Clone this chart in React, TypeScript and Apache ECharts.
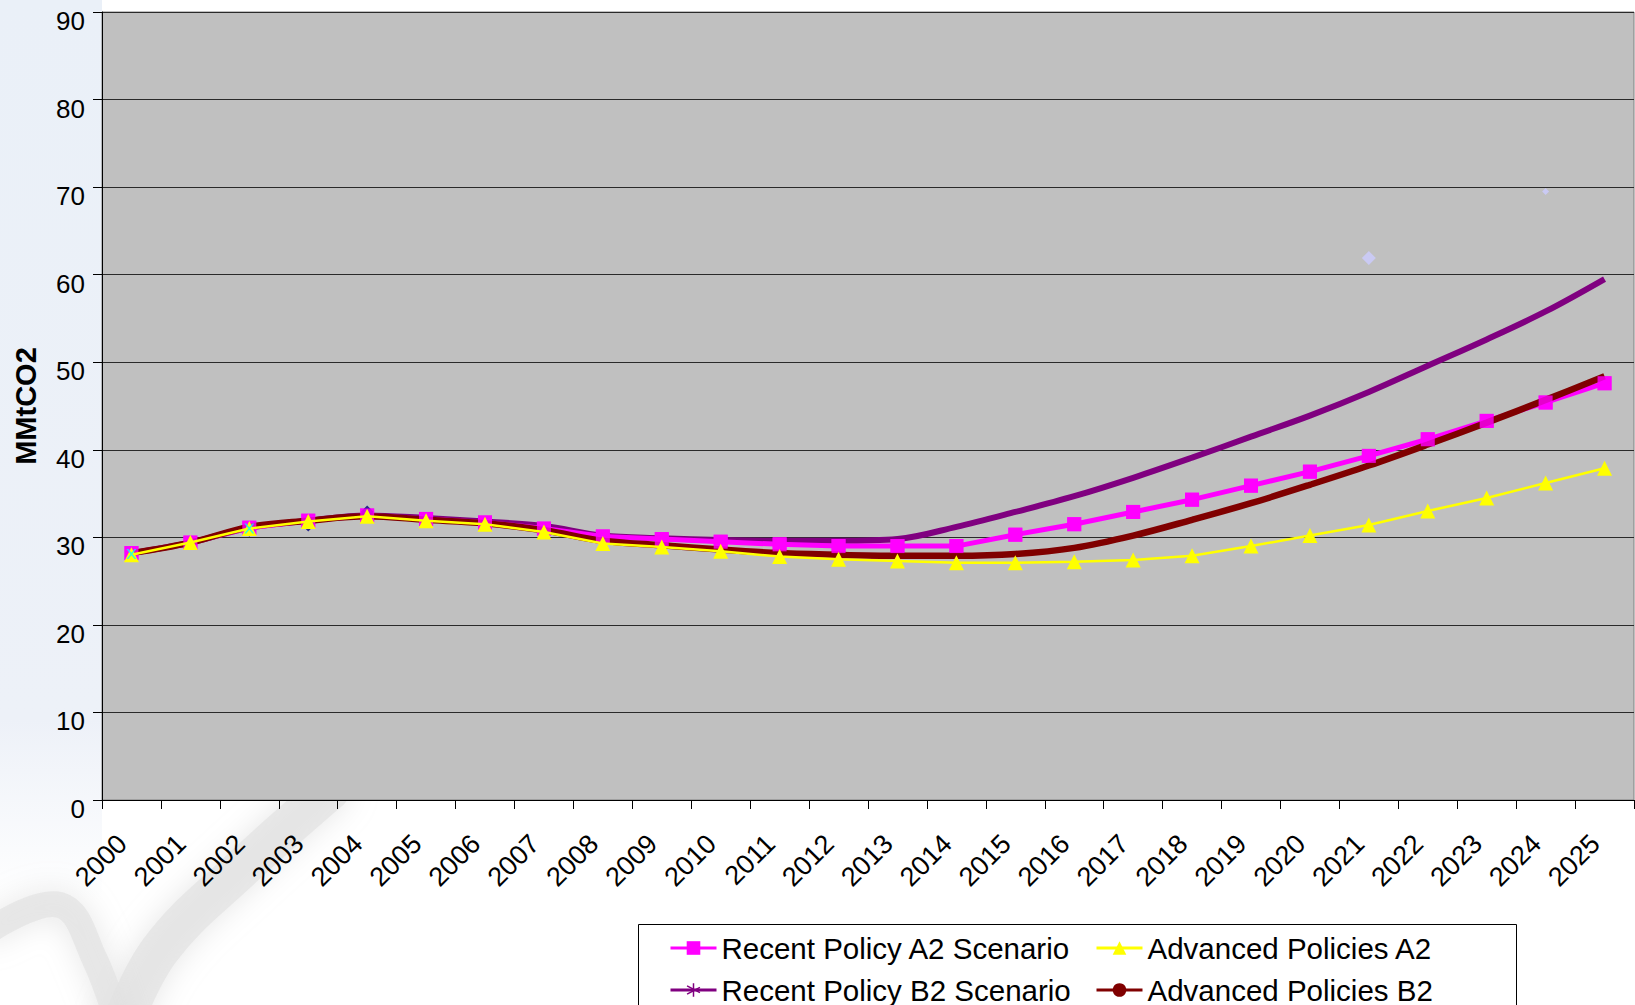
import React, { useEffect, useRef } from "react";
import * as echarts from "echarts";

// Emission projections, MMtCO2
const years = [
  "2000", "2001", "2002", "2003", "2004", "2005", "2006", "2007", "2008",
  "2009", "2010", "2011", "2012", "2013", "2014", "2015", "2016", "2017",
  "2018", "2019", "2020", "2021", "2022", "2023", "2024", "2025",
];

const recentA2 = [
  28.2, 29.4, 31.1, 31.9, 32.5, 32.1, 31.7, 31.0, 30.1, 29.8, 29.5, 29.2, 29.0,
  29.0, 29.0, 30.3, 31.5, 32.9, 34.3, 35.9, 37.5, 39.3, 41.2, 43.3, 45.4, 47.6,
];

const recentB2 = [
  28.2, 29.4, 31.1, 31.9, 32.5, 32.2, 31.8, 31.3, 30.2, 29.9, 29.7, 29.6, 29.6,
  29.8, 31.2, 32.9, 34.7, 36.8, 39.1, 41.5, 43.9, 46.6, 49.6, 52.6, 55.8, 59.5,
];

const advancedA2 = [
  28.0, 29.4, 31.0, 31.8, 32.4, 31.9, 31.5, 30.6, 29.3, 28.9, 28.4, 27.8, 27.5,
  27.3, 27.1, 27.1, 27.2, 27.4, 27.9, 29.0, 30.2, 31.4, 33.0, 34.5, 36.2, 37.9,
];

const advancedB2 = [
  28.2, 29.4, 31.2, 31.9, 32.4, 32.0, 31.6, 30.8, 29.6, 29.1, 28.6, 28.2, 28.0,
  27.9, 27.9, 28.1, 28.8, 30.2, 32.0, 33.9, 36.0, 38.2, 40.6, 43.1, 45.7, 48.4,
];

// Leftover markers from unused worksheet series
const navyPoints = [["2002", 30.8], ["2003", 31.4], ["2004", 32.9]];
const cyanPoints = [["2000", 28.1], ["2002", 31.0]];
const lavenderPoints = [["2021", 61.9], ["2024", 69.5]];

const seriesNames = [
  "Recent Policy A2 Scenario",
  "Recent Policy B2 Scenario",
  "Advanced Policies A2",
  "Advanced Policies B2",
];

const FONT = "'Liberation Sans', Arial, sans-serif";

const ASTERISK =
  "path://M4.5,0h1v10h-1z M0.4,2.4l0.5,-0.87l8.7,5.02l-0.5,0.87z M0.4,7.6l8.7,-5.02l0.5,0.87l-8.7,5.02z";
const CROSS = "path://M0,0L2,0L10,10L8,10z M8,0L10,0L2,10L0,10z";

export default function App() {
  const ref = useRef<HTMLDivElement>(null);

  useEffect(() => {
    if (!ref.current) return;
    const chart = echarts.init(ref.current, undefined, { renderer: "svg" });

    const legendBase = {
      orient: "vertical" as const,
      top: 933,
      itemWidth: 46,
      itemHeight: 17,
      itemGap: 12,
      padding: 0,
      selectedMode: false,
      lineStyle: { width: 3 },
      textStyle: { fontSize: 29.5, color: "#000", fontFamily: FONT, lineHeight: 29 },
    };

    const branch = (points: number[][], width: number) => ({
      type: "polyline",
      z: -9,
      shape: { points, smooth: 0.4 },
      style: {
        stroke: "#e2e2e2",
        lineWidth: width,
        fill: "none",
        opacity: 0.7,
        shadowBlur: 30,
        shadowColor: "#dddddd",
        lineCap: "round",
      },
    });

    chart.setOption({
      animation: false,
      backgroundColor: "#ffffff",
      textStyle: { fontFamily: FONT },
      graphic: [
        // faint backdrop artwork around the plot
        {
          type: "rect",
          z: -10,
          shape: { x: 0, y: 0, width: 102, height: 900 },
          style: {
            fill: new echarts.graphic.LinearGradient(0, 0, 0, 1, [
              { offset: 0, color: "#eaf0f8" },
              { offset: 0.8, color: "#edf1f8" },
              { offset: 1, color: "#ffffff" },
            ]),
          },
        },
        branch([[120, 1030], [160, 950], [240, 870], [330, 790]], 40),
        branch([[-10, 930], [60, 905], [95, 960], [120, 1030]], 26),
        // legend frame
        {
          type: "rect",
          z: 0,
          shape: { x: 638.5, y: 924.5, width: 878, height: 100 },
          style: { fill: "#ffffff", stroke: "#000", lineWidth: 1 },
        },
      ],
      legend: [
        { ...legendBase, left: 669, data: [seriesNames[0], seriesNames[1]] },
        { ...legendBase, left: 1095, data: [seriesNames[2], seriesNames[3]] },
      ],
      grid: {
        left: 102,
        right: 1,
        top: 12,
        bottom: 205,
        show: true,
        backgroundColor: "#c0c0c0",
        borderColor: "#808080",
        borderWidth: 1,
      },
      xAxis: {
        type: "category",
        data: years,
        boundaryGap: true,
        axisLine: { show: true, lineStyle: { color: "#000", width: 1 } },
        axisTick: { show: true, length: 9, interval: 0, lineStyle: { color: "#000" } },
        axisLabel: {
          interval: 0,
          rotate: 45,
          fontSize: 27,
          color: "#000",
          fontFamily: FONT,
          margin: 30,
          padding: [0, 13, 18, 0],
        },
        splitLine: { show: false },
      },
      yAxis: {
        type: "value",
        min: 0,
        max: 90,
        interval: 10,
        name: "MMtCO2",
        nameLocation: "middle",
        nameRotate: 90,
        nameGap: 62,
        nameTextStyle: { fontSize: 29, fontWeight: "bold", color: "#000", fontFamily: FONT },
        axisLine: { show: true, lineStyle: { color: "#000", width: 1 } },
        axisTick: { show: true, length: 9, lineStyle: { color: "#000" } },
        axisLabel: {
          fontSize: 26,
          color: "#000",
          fontFamily: FONT,
          margin: 17,
          verticalAlign: "top",
          lineHeight: 18,
        },
        splitLine: { show: true, lineStyle: { color: "#2a2a2a", width: 1 } },
      },
      series: [
        {
          name: seriesNames[1],
          type: "line",
          data: recentB2,
          z: 2,
          smooth: 0.35,
          symbol: ASTERISK,
          showSymbol: false,
          color: "#800080",
          lineStyle: { color: "#800080", width: 6 },
          itemStyle: { color: "#800080" },
        },
        {
          name: seriesNames[0],
          type: "line",
          data: recentA2,
          z: 3,
          symbol: "rect",
          symbolSize: 14,
          color: "#ff00ff",
          lineStyle: { color: "#ff00ff", width: 5 },
          itemStyle: { color: "#ff00ff" },
        },
        {
          name: seriesNames[3],
          type: "line",
          data: advancedB2,
          z: 4,
          smooth: 0.35,
          symbol: "circle",
          showSymbol: false,
          color: "#800000",
          lineStyle: { color: "#800000", width: 6.5 },
          itemStyle: { color: "#800000" },
        },
        {
          type: "scatter",
          data: navyPoints,
          z: 5,
          symbol: "diamond",
          symbolSize: 13,
          itemStyle: { color: "#000080" },
          silent: true,
        },
        {
          type: "scatter",
          data: recentA2,
          z: 6,
          symbol: "rect",
          symbolSize: 14,
          itemStyle: { color: "#ff00ff" },
          silent: true,
        },
        {
          name: seriesNames[2],
          type: "line",
          data: advancedA2,
          z: 7,
          symbol: "triangle",
          symbolSize: 15,
          color: "#ffff00",
          lineStyle: { color: "#ffff00", width: 2.5 },
          itemStyle: { color: "#ffff00" },
        },
        {
          type: "scatter",
          data: cyanPoints,
          z: 8,
          symbol: CROSS,
          symbolSize: 10,
          itemStyle: { color: "#00ffff" },
          silent: true,
        },
        {
          type: "scatter",
          data: lavenderPoints,
          z: 8,
          symbol: "diamond",
          symbolSize: (_v: unknown, p: { dataIndex: number }) => (p.dataIndex === 0 ? 14 : 7),
          itemStyle: { color: "#ccccff" },
          silent: true,
        },
      ],
    });

    return () => chart.dispose();
  }, []);

  return (
    <div
      ref={ref}
      style={{ position: "absolute", left: 0, top: 0, width: 1635, height: 1005 }}
    />
  );
}
